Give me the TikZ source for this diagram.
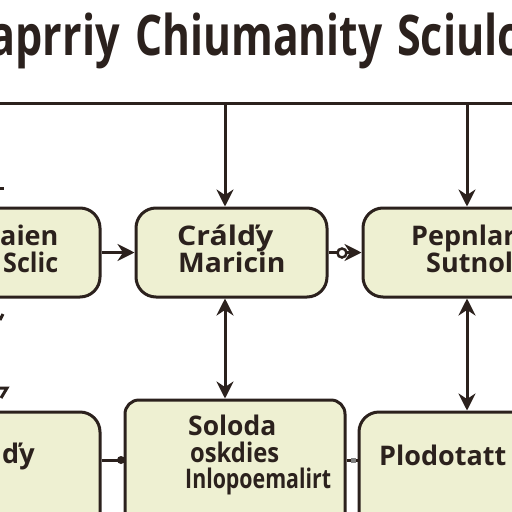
\documentclass[tikz,border=0pt]{standalone}
\usepackage{fontspec}
\usepackage{graphicx}
\setmainfont{Open Sans}
\usetikzlibrary{arrows.meta}
\definecolor{ink}{HTML}{2B211D}
\definecolor{boxfill}{HTML}{EEF0D2}
\newcommand{\hsq}[2]{\scalebox{#1}[1]{#2}}
\tikzset{
  box/.style={draw=ink, fill=boxfill, line width=3pt, rounded corners=20pt, inner sep=0pt},
  conn/.style={draw=ink, line width=3pt},
  head/.style={-{Stealth[length=17pt,width=17pt]}},
  dhead/.style={{Stealth[length=17pt,width=17pt]}-{Stealth[length=17pt,width=17pt]}},
  ttl/.style={text=ink, font=\fontsize{56}{60}\selectfont\bfseries, inner sep=0pt},
  lbl/.style={text=ink, font=\fontsize{27}{30}\selectfont\bfseries, inner sep=0pt},
}
\begin{document}
\begin{tikzpicture}[x=1pt,y=-1pt]
\useasboundingbox (0,0) rectangle (512,512);
\clip (0,0) rectangle (512,512);
\fill[white] (0,0) rectangle (512,512);
% title
\node[ttl, anchor=base east] (t1) at (120,55) {\hsq{0.77}{aprriy}};
\node[ttl, anchor=base west] (t2) at (135,55) {\hsq{0.76}{Chiumanity}};
\node[ttl, anchor=base west] (t3) at (397,55) {\hsq{0.77}{Sciulo}};
% top bus
\coordinate (busL) at (-5,103);
\coordinate (busR) at (517,103);
\draw[conn] (busL) -- (busR);
% boxes row 1
\node[box, minimum width=140pt, minimum height=89pt] (A) at (30,252.5) {};
\node[box, minimum width=191pt, minimum height=89pt] (B) at (231.5,252.5) {};
\node[box, minimum width=207pt, minimum height=89pt] (C) at (466.5,252.5) {};
% boxes row 2
\node[box, minimum width=156pt, minimum height=128pt] (A2) at (22,476) {};
\node[box, rounded corners=14pt, minimum width=220pt, minimum height=130pt] (B2) at (235,465) {};
\node[box, minimum width=211pt, minimum height=128pt] (C2) at (464.5,476) {};
% texts
\node[lbl, anchor=base west] (a1) at (0,245) {aien};
\node[lbl, anchor=base west] (a2) at (3,272) {\hsq{0.93}{Sclic}};
\node[lbl, anchor=base west] (b1) at (177,245) {\hsq{1.12}{Crálďy}};
\node[lbl, anchor=base west] (b2) at (178,272) {\hsq{1.05}{Maricin}};
\node[lbl, anchor=base west] (c1) at (411,245) {Pepnlar};
\node[lbl, anchor=base west] (c2) at (426,272) {Sutnol};
\node[lbl, anchor=base west] (d1) at (2,463) {ďy};
\node[lbl, anchor=base west] (e1) at (188,435) {\hsq{0.98}{Soloda}};
\node[lbl, anchor=base west] (e2) at (190,462) {\hsq{0.88}{oskdies}};
\node[lbl, anchor=base west] (e3) at (185,488) {\hsq{0.79}{Inlopoemalirt}};
\node[lbl, anchor=base west] (f1) at (379,465) {Plodotatt};
% down arrows from bus
\coordinate (busB) at (225,103);
\coordinate (busC) at (467,103);
\draw[conn, head] (busB) -- (B.north -| busB);
\draw[conn, head] (busC) -- (C.north -| busC);
% vertical double arrows
\draw[conn, dhead] (B.south -| busB) -- (B2.north -| busB);
\draw[conn, dhead] (C.south -| busC) -- (C2.north -| busC);
% horizontal connectors
\draw[conn, head] (A.east) -- (B.west);
\draw[conn, head] (B.east) -- (C.west);
\node[circle, draw=ink, fill=white, line width=2.5pt, minimum size=9pt, inner sep=0pt] (k1) at (342,253) {};
\draw[conn] (A2.east |- 0,460) -- (B2.west |- 0,460);
\node[circle, fill=ink, minimum size=8pt, inner sep=0pt] (k2) at (121,460) {};
\draw[conn] (B2.east |- 0,460) -- (C2.west |- 0,460);
\node[rectangle, fill=gray, minimum size=5pt, inner sep=0pt] (k3) at (353,460) {};
% stray marks at left edge
\coordinate (m1) at (0,188);
\coordinate (m1b) at (4,188);
\draw[conn] (m1) -- (m1b);
\coordinate (m2) at (0,320);
\coordinate (m2b) at (3,314);
\draw[conn] (m2) -- (m2b);
\coordinate (m3) at (0,388);
\coordinate (m3b) at (7,388);
\coordinate (m3c) at (1,398);
\draw[conn] (m3) -- (m3b) -- (m3c);
\end{tikzpicture}
\end{document}
